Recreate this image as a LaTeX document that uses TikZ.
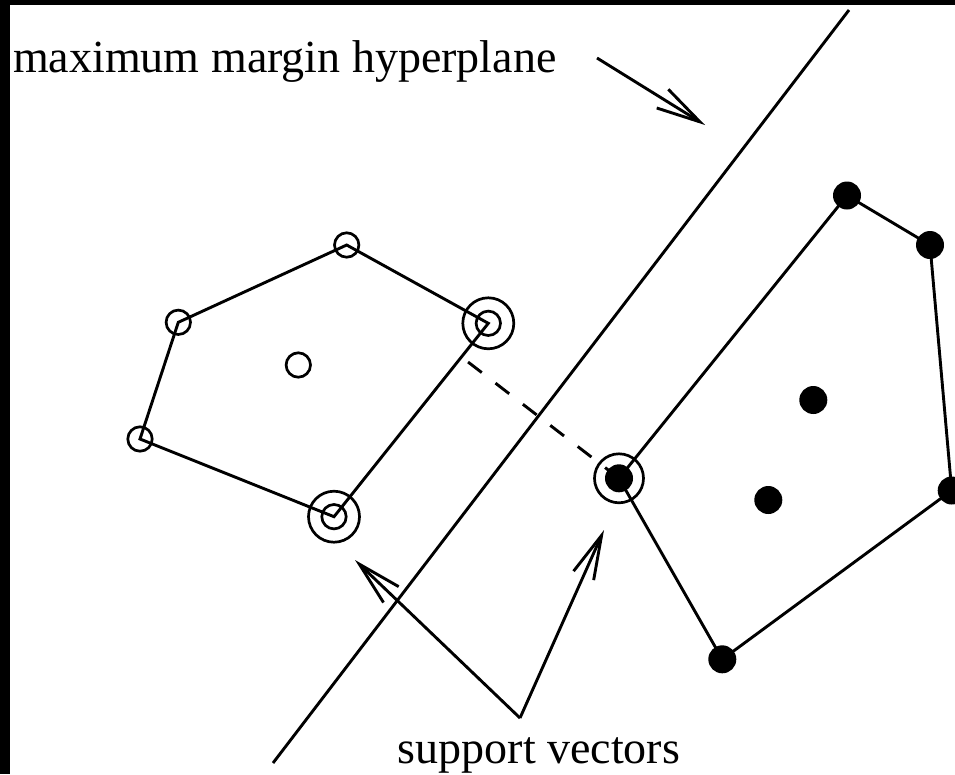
\documentclass[tikz,border=0pt]{standalone}
\usepackage{fontspec}
\setmainfont{Liberation Serif}
\usetikzlibrary{arrows.meta,calc}
\tikzset{
  ln/.style={line width=2.9pt},
  hollow/.style={circle,draw,line width=2.7pt,minimum size=24.4pt,inner sep=0pt},
  ringo/.style={circle,draw,line width=2.7pt,minimum size=51pt,inner sep=0pt},
  solid dot/.style={circle,fill=black,minimum size=28pt,inner sep=0pt},
  barb/.style={-{Straight Barb[length=44pt,width=22pt,line cap=butt,line join=miter]}},
  lbl/.style={inner sep=0pt,font=\fontsize{46}{50}\selectfont}
}
\begin{document}
\begin{tikzpicture}[x=1pt,y=-1pt]
\useasboundingbox (0,0) rectangle (955,774);
\fill[white] (0,0) rectangle (955,774);
\fill[black] (0,0) rectangle (10,774);
\fill[black] (0,0) rectangle (955,5);

% hyperplane
\coordinate (hpA) at (273,763);
\coordinate (hpB) at (849,10);
\draw[ln] (hpA) -- (hpB);

% points positions
\coordinate (p1) at (346.7,245);
\coordinate (p2) at (178.3,322.3);
\coordinate (p3) at (140,439);
\coordinate (p4) at (298.3,365);
\coordinate (sv1) at (488.3,323.3);
\coordinate (sv2) at (334,516.7);
\coordinate (sv3) at (619,478.3);
\coordinate (q1) at (847,195.5);
\coordinate (q2) at (930,245);
\coordinate (q3) at (951.7,490.5);
\coordinate (q4) at (722.3,659.3);
\coordinate (q5) at (813.3,400);
\coordinate (q6) at (768.3,500);

% hulls
\draw[ln,line join=miter] (p1) -- (sv1) -- (sv2) -- (p3) -- (p2) -- cycle;
\draw[ln,line join=miter] (sv3) -- (q1) -- (q2) -- (q3) -- (q4) -- cycle;

% margin (dashed)
\coordinate (foot) at (461.4,356.9);
\draw[ln,dash pattern=on 17.3pt off 17.3pt,dash phase=26.2pt] (foot) -- (sv3);

% hollow points
\node[hollow] (n1) at (p1) {};
\node[hollow] (n2) at (p2) {};
\node[hollow] (n3) at (p3) {};
\node[hollow] (n4) at (p4) {};
% support vectors (hollow)
\node[ringo] (r1) at (sv1) {};
\node[hollow] (s1) at (sv1) {};
\node[ringo] (r2) at (sv2) {};
\node[hollow] (s2) at (sv2) {};
% filled points
\node[solid dot] (m1) at (q1) {};
\node[solid dot] (m2) at (q2) {};
\node[solid dot] (m3) at (q3) {};
\node[solid dot] (m4) at (q4) {};
\node[solid dot] (m5) at (q5) {};
\node[solid dot] (m6) at (q6) {};
\node[solid dot] (s3) at (sv3) {};
\node[ringo,minimum size=49pt] (r3) at (sv3) {};

% labels
\node[lbl,anchor=base west] (t1) at (13,72) {maximum margin hyperplane};
\node[lbl,anchor=base] (t2) at (539,763) {support vectors};

% arrows
\coordinate (a1s) at (597,58);
\coordinate (a1e) at (705,125);
\draw[ln,barb] (a1s) -- (a1e);
\coordinate (apex) at (520,718);
\coordinate (tipL) at (355,560);
\coordinate (tipR) at (604,530);
\draw[ln,barb] (apex) -- (tipL);
\draw[ln,barb] (apex) -- (tipR);
\end{tikzpicture}
\end{document}
